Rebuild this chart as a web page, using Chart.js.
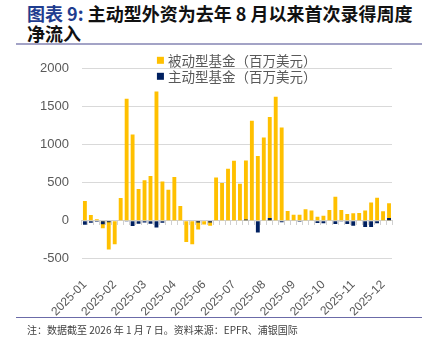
<!DOCTYPE html>
<html>
<head>
<meta charset="utf-8">
<script src="https://cdn.jsdelivr.net/npm/chart.js@4"></script>
<style>
  html, body { margin: 0; padding: 0; background: #fff; }
  body { width: 431px; height: 342px; position: relative; overflow: hidden; font-family: "Noto Sans CJK SC", sans-serif; }
  #title { position: absolute; left: 27px; top: 3px; width: 400px; font-size: 18px; font-weight: bold; line-height: 20px; color: #111; }
  #title .num { color: #1f3d8f; }
  #titleRule { position: absolute; left: 16px; top: 43px; width: 406px; height: 2px; background: #a3a3c6; }
  #chartBox { position: absolute; left: 0; top: 48px; width: 431px; height: 290px; }
  #noteRule { position: absolute; left: 16px; top: 317px; width: 406px; height: 1px; background: #6b6ba8; }
  #note { position: absolute; left: 27px; top: 323px; font-size: 10px; line-height: 14px; color: #404040; white-space: nowrap; background: #fff; }
</style>
</head>
<body>
<div id="title"><span class="num">图表 9:</span> 主动型外资为去年 8 月以来首次录得周度净流入</div>
<div id="titleRule"></div>
<div id="chartBox"><canvas id="flowChart"></canvas></div>
<div id="noteRule"></div>
<div id="note">注：数据截至 2026 年 1 月 7 日。资料来源：EPFR、浦银国际</div>

<script>
// Weekly fund flows, week ending dates
const weeks = [
    '2025-01-15', '2025-01-22', '2025-01-29', '2025-02-05', '2025-02-12', '2025-02-19', '2025-02-26',
    '2025-03-05', '2025-03-12', '2025-03-19', '2025-03-26', '2025-04-02', '2025-04-09', '2025-04-16',
    '2025-04-23', '2025-04-30', '2025-05-07', '2025-05-14', '2025-05-21', '2025-05-28', '2025-06-04',
    '2025-06-11', '2025-06-18', '2025-06-25', '2025-07-02', '2025-07-09', '2025-07-16', '2025-07-23',
    '2025-07-30', '2025-08-06', '2025-08-13', '2025-08-20', '2025-08-27', '2025-09-03', '2025-09-10',
    '2025-09-17', '2025-09-24', '2025-10-01', '2025-10-08', '2025-10-15', '2025-10-22', '2025-10-29',
    '2025-11-05', '2025-11-12', '2025-11-19', '2025-11-26', '2025-12-03', '2025-12-10', '2025-12-17',
    '2025-12-24', '2025-12-31', '2026-01-07'
];

// Passive funds, USD mn
const passiveFlows = [
    260, 75, 20, -100, -380, -310, 300, 1605, 1135, 417, 532, 590, 1702,
    515, 408, 577, 195, -280, -310, -115, -50, -65, 568, 497, 683, 790,
    488, 792, 1317, 851, 1096, 1366, 1632, 1228, 129, 80, 80, 151, 133,
    53, 66, 142, 315, 142, 89, 98, 102, 133, 240, 302, 124, 231
];

// Active funds, USD mn
const activeFlows = [
    -53, -27, -13, -48, -20, 0, 0, -5, -70, -40, -25, -40, -88,
    -27, 0, 0, 0, 0, 0, -25, 0, -25, 0, 0, 0, 0,
    5, 15, 5, -155, 0, 35, -8, -20, 0, -8, -15, 0, -8,
    -30, -35, 0, -45, -5, -45, -65, -8, -83, -83, -35, 0, 35
];

const yTicks = [-500, 0, 500, 1000, 1500, 2000];

const GOLD = '#ffc000';
const NAVY = '#002060';
const TEXT_GREY = '#595959';

// Legend drawn inside the plot, straddling the top gridline
const innerLegend = {
    id: 'innerLegend',
    afterDraw(chart) {
        const { ctx, chartArea } = chart;
        ctx.save();
        ctx.font = '13.5px "Noto Sans CJK SC"';
        ctx.textBaseline = 'middle';
        chart.data.datasets.forEach((ds, i) => {
            const x = chartArea.left + 75;
            const y = chartArea.top - 8 + i * 16;
            ctx.fillStyle = ds.backgroundColor;
            ctx.fillRect(x, y - 4, 7, 7);
            ctx.fillStyle = TEXT_GREY;
            ctx.fillText(ds.label, x + 11, y);
        });
        ctx.restore();
    }
};

const ctx = document.getElementById('flowChart').getContext('2d');
new Chart(ctx, {
    type: 'bar',
    data: {
        labels: weeks,
        datasets: [
            {
                label: '被动型基金（百万美元）',
                data: passiveFlows,
                backgroundColor: GOLD,
                grouped: false,
                order: 1,
                categoryPercentage: 1,
                barPercentage: 0.65
            },
            {
                label: '主动型基金（百万美元）',
                data: activeFlows,
                backgroundColor: NAVY,
                grouped: false,
                order: 0,
                categoryPercentage: 1,
                barPercentage: 0.65
            }
        ]
    },
    options: {
        responsive: true,
        maintainAspectRatio: false,
        animation: false,
        layout: { padding: { left: 27, right: 39, top: 16, bottom: 0 } },
        plugins: {
            legend: { display: false },
            tooltip: { enabled: false }
        },
        scales: {
            // category axis sitting on the zero line, tick marks only
            x: {
                type: 'category',
                position: { y: 0 },
                offset: true,
                ticks: { display: false },
                grid: {
                    offset: true,
                    drawOnChartArea: false,
                    drawTicks: true,
                    tickLength: 4,
                    color: '#d0d0d0'
                },
                border: { display: true, color: '#d0d0d0' }
            },
            // label axis along the bottom
            xLabels: {
                type: 'category',
                position: 'bottom',
                offset: true,
                labels: weeks,
                grid: { display: false, drawTicks: false },
                border: { display: false },
                ticks: {
                    autoSkip: false,
                    maxRotation: 45,
                    minRotation: 45,
                    padding: 19,
                    color: TEXT_GREY,
                    font: { family: '"Liberation Sans"', size: 12 },
                    callback: function(value, index) {
                        return index % 5 === 0 ? weeks[index].slice(0, 7) : '';
                    }
                }
            },
            y: {
                min: -500,
                max: 2000,
                afterBuildTicks: axis => { axis.ticks = yTicks.map(v => ({ value: v })); },
                grid: { color: '#d9d9d9', drawTicks: false },
                border: { display: false },
                ticks: {
                    padding: 13,
                    color: TEXT_GREY,
                    font: { family: '"Liberation Sans"', size: 13 },
                    callback: v => String(v)
                }
            }
        }
    },
    plugins: [innerLegend]
});
</script>
</body>
</html>
